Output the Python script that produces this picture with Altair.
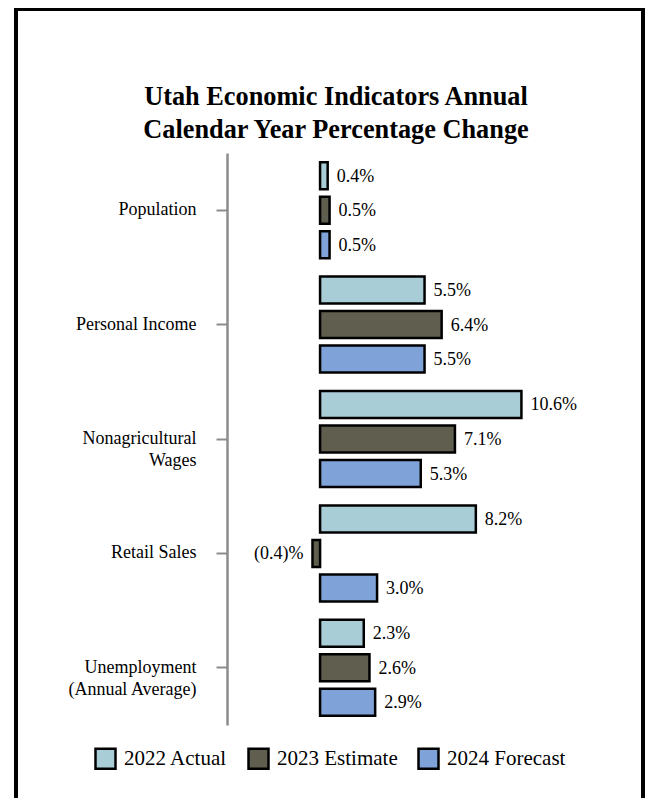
import altair as alt
import pandas as pd

categories = ["Population", "Personal Income", "Nonagricultural|Wages", "Retail Sales",
              "Unemployment|(Annual Average)"]
series = ["2022 Actual", "2023 Estimate", "2024 Forecast"]
actual_2022 = [0.4, 5.5, 10.6, 8.2, 2.3]
estimate_2023 = [0.5, 6.4, 7.1, -0.4, 2.6]
forecast_2024 = [0.5, 5.5, 5.3, 3.0, 2.9]
colors = ["#A8CDD7", "#5F5E4F", "#7FA2D8"]
title_lines = ["Utah Economic Indicators Annual", "Calendar Year Percentage Change"]

rows = []
for s, vals in zip(series, [actual_2022, estimate_2023, forecast_2024]):
    for c, v in zip(categories, vals):
        rows.append({"category": c, "series": s, "value": v})
df = pd.DataFrame(rows)

FONT = "Liberation Serif"

y_enc = alt.Y(
    "category:N", sort=categories, title=None,
    scale=alt.Scale(paddingInner=0, paddingOuter=0),
    axis=alt.Axis(
        labelExpr="split(datum.label, '|')", labelFont=FONT, labelFontSize=18,
        labelColor="black", labelPadding=20, labelLineHeight=22, labelAlign="right",
        labelBaseline="middle", tickSize=11, tickWidth=2, tickColor="#8c8c8c",
        domainColor="#8c8c8c", domainWidth=2.5, grid=False,
    ),
)
yoff_enc = alt.YOffset("series:N", sort=series,
                       scale=alt.Scale(paddingInner=0.217, paddingOuter=0.266))
x_enc = alt.X("value:Q", scale=alt.Scale(domain=[-4.9, 15], nice=False, zero=False), axis=None)

base = alt.Chart(df).transform_calculate(
    label="datum.value < 0 ? '(' + format(-datum.value, '.1f') + ')%' : format(datum.value, '.1f') + '%'"
)

bars = base.mark_bar(stroke="black", strokeWidth=2.5, opacity=1).encode(
    x=x_enc, y=y_enc, yOffset=yoff_enc,
    color=alt.Color(
        "series:N", sort=series,
        scale=alt.Scale(domain=series, range=colors),
        legend=alt.Legend(
            orient="none", legendX=-133, legendY=594, direction="horizontal", columns=3,
            title=None, symbolType="square", symbolSize=400, symbolStrokeColor="black",
            symbolStrokeWidth=2.5, symbolOpacity=1, labelFont=FONT, labelFontSize=21,
            labelColor="black", labelOffset=7, columnPadding=15,
        ),
    ),
)

pos_text = base.transform_filter("datum.value >= 0").mark_text(
    align="left", baseline="middle", dx=9, dy=1, font=FONT, fontSize=18, color="black"
).encode(x=x_enc, y=y_enc, yOffset=yoff_enc, text="label:N")

neg_text = base.transform_filter("datum.value < 0").mark_text(
    align="right", baseline="middle", dx=-9, dy=1, font=FONT, fontSize=18, color="black"
).encode(x=x_enc, y=y_enc, yOffset=yoff_enc, text="label:N")

frame = alt.Chart(pd.DataFrame({"f": [0]})).mark_rect(
    fillOpacity=0, stroke="black", strokeWidth=4
).encode(x=alt.value(-211), x2=alt.value(416), y=alt.value(-144), y2=alt.value(690))

chart = alt.layer(bars, pos_text, neg_text, frame).properties(
    width=378, height=572,
    autosize=alt.AutoSizeParams(type="none"),
    padding={"left": 219, "top": 145, "right": 40, "bottom": 73},
    background="white",
    title=alt.TitleParams(
        title_lines, font=FONT, fontSize=26.3, fontWeight="bold", color="black",
        lineHeight=33, anchor="middle", dx=-80, offset=-136,
    ),
).configure_view(strokeWidth=0)

chart.save("out.html", embed_options={"renderer": "svg", "actions": False})
